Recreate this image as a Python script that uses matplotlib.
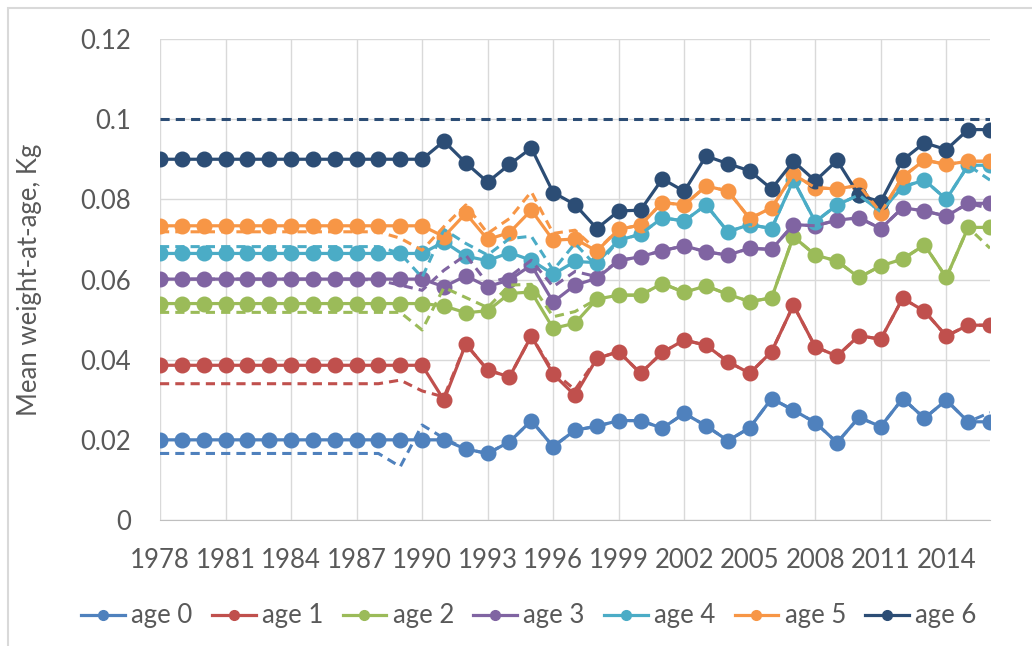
import matplotlib
matplotlib.use('Agg')
import matplotlib.pyplot as plt
from matplotlib.lines import Line2D
import numpy as np

# jahre 1978 - 2016
years = list(range(1978, 2017))

# durchgezogene linien (beobachtet)
age0 = [0.0200, 0.0200, 0.0200, 0.0200, 0.0200, 0.0200, 0.0200, 0.0200, 0.0200, 0.0200,
        0.0200, 0.0200, 0.0200, 0.0200, 0.0177, 0.0166, 0.0195, 0.0248, 0.0183, 0.0224,
        0.0234, 0.0248, 0.0248, 0.0229, 0.0266, 0.0235, 0.0198, 0.0230, 0.0303, 0.0274,
        0.0243, 0.0193, 0.0256, 0.0233, 0.0303, 0.0254, 0.0299, 0.0245, 0.0245]
age1 = [0.0386, 0.0386, 0.0386, 0.0386, 0.0386, 0.0386, 0.0386, 0.0386, 0.0386, 0.0386,
        0.0386, 0.0386, 0.0386, 0.0299, 0.0439, 0.0374, 0.0357, 0.0459, 0.0364, 0.0311,
        0.0403, 0.0420, 0.0366, 0.0418, 0.0449, 0.0436, 0.0395, 0.0366, 0.0420, 0.0536,
        0.0432, 0.0409, 0.0460, 0.0451, 0.0553, 0.0521, 0.0459, 0.0486, 0.0486]
age2 = [0.0540, 0.0540, 0.0540, 0.0540, 0.0540, 0.0540, 0.0540, 0.0540, 0.0540, 0.0540,
        0.0540, 0.0540, 0.0540, 0.0534, 0.0517, 0.0522, 0.0565, 0.0569, 0.0478, 0.0491,
        0.0551, 0.0561, 0.0561, 0.0590, 0.0568, 0.0584, 0.0563, 0.0545, 0.0554, 0.0707,
        0.0661, 0.0646, 0.0605, 0.0634, 0.0651, 0.0686, 0.0605, 0.0730, 0.0730]
age3 = [0.0601, 0.0601, 0.0601, 0.0601, 0.0601, 0.0601, 0.0601, 0.0601, 0.0601, 0.0601,
        0.0601, 0.0601, 0.0601, 0.0582, 0.0609, 0.0582, 0.0599, 0.0636, 0.0544, 0.0586,
        0.0603, 0.0647, 0.0657, 0.0672, 0.0684, 0.0669, 0.0661, 0.0678, 0.0675, 0.0737,
        0.0734, 0.0748, 0.0754, 0.0727, 0.0779, 0.0771, 0.0758, 0.0790, 0.0790]
age4 = [0.0665, 0.0665, 0.0665, 0.0665, 0.0665, 0.0665, 0.0665, 0.0665, 0.0665, 0.0665,
        0.0665, 0.0665, 0.0665, 0.0694, 0.0658, 0.0647, 0.0667, 0.0648, 0.0613, 0.0645,
        0.0642, 0.0698, 0.0713, 0.0754, 0.0746, 0.0786, 0.0719, 0.0737, 0.0727, 0.0848,
        0.0744, 0.0786, 0.0811, 0.0769, 0.0831, 0.0848, 0.0800, 0.0885, 0.0885]
age5 = [0.0734, 0.0734, 0.0734, 0.0734, 0.0734, 0.0734, 0.0734, 0.0734, 0.0734, 0.0734,
        0.0734, 0.0734, 0.0734, 0.0707, 0.0765, 0.0700, 0.0717, 0.0773, 0.0698, 0.0701,
        0.0671, 0.0725, 0.0736, 0.0792, 0.0786, 0.0833, 0.0821, 0.0752, 0.0779, 0.0862,
        0.0829, 0.0826, 0.0835, 0.0767, 0.0856, 0.0898, 0.0887, 0.0895, 0.0895]
age6 = [0.0900, 0.0900, 0.0900, 0.0900, 0.0900, 0.0900, 0.0900, 0.0900, 0.0900, 0.0900,
        0.0900, 0.0900, 0.0900, 0.0945, 0.0891, 0.0843, 0.0887, 0.0928, 0.0817, 0.0787,
        0.0727, 0.0771, 0.0773, 0.0851, 0.0820, 0.0908, 0.0889, 0.0871, 0.0826, 0.0895,
        0.0846, 0.0897, 0.0810, 0.0794, 0.0898, 0.0941, 0.0924, 0.0974, 0.0974]

# gestrichelte linien (modell)
age0_fit = [0.0166, 0.0166, 0.0166, 0.0166, 0.0166, 0.0166, 0.0166, 0.0166, 0.0166, 0.0166,
            0.0166, 0.0133, 0.0237, 0.0204, 0.0177, 0.0166, 0.0195, 0.0248, 0.0183, 0.0224,
            0.0234, 0.0248, 0.0248, 0.0229, 0.0266, 0.0235, 0.0198, 0.0230, 0.0303, 0.0274,
            0.0243, 0.0193, 0.0256, 0.0233, 0.0303, 0.0254, 0.0299, 0.0245, 0.0268]
age1_fit = [0.0340, 0.0340, 0.0340, 0.0340, 0.0340, 0.0340, 0.0340, 0.0340, 0.0340, 0.0340,
            0.0340, 0.0349, 0.0322, 0.0307, 0.0439, 0.0374, 0.0357, 0.0459, 0.0370, 0.0325,
            0.0403, 0.0420, 0.0366, 0.0418, 0.0449, 0.0436, 0.0395, 0.0366, 0.0420, 0.0536,
            0.0432, 0.0409, 0.0460, 0.0451, 0.0553, 0.0521, 0.0459, 0.0486, 0.0486]
age2_fit = [0.0518, 0.0518, 0.0518, 0.0518, 0.0518, 0.0518, 0.0518, 0.0518, 0.0518, 0.0518,
            0.0518, 0.0518, 0.0474, 0.0580, 0.0555, 0.0530, 0.0586, 0.0588, 0.0507, 0.0520,
            0.0551, 0.0561, 0.0561, 0.0590, 0.0568, 0.0584, 0.0563, 0.0545, 0.0554, 0.0707,
            0.0661, 0.0646, 0.0605, 0.0634, 0.0651, 0.0686, 0.0605, 0.0730, 0.0678]
age3_fit = [0.0601, 0.0601, 0.0601, 0.0601, 0.0601, 0.0601, 0.0601, 0.0601, 0.0601, 0.0601,
            0.0598, 0.0586, 0.0573, 0.0623, 0.0661, 0.0590, 0.0607, 0.0648, 0.0582, 0.0620,
            0.0607, 0.0647, 0.0657, 0.0672, 0.0684, 0.0669, 0.0661, 0.0678, 0.0675, 0.0737,
            0.0734, 0.0748, 0.0754, 0.0727, 0.0779, 0.0771, 0.0758, 0.0790, 0.0777]
age4_fit = [0.0682, 0.0682, 0.0682, 0.0682, 0.0682, 0.0682, 0.0682, 0.0682, 0.0682, 0.0682,
            0.0682, 0.0665, 0.0605, 0.0725, 0.0690, 0.0661, 0.0702, 0.0708, 0.0623, 0.0690,
            0.0632, 0.0698, 0.0713, 0.0754, 0.0746, 0.0786, 0.0719, 0.0737, 0.0727, 0.0848,
            0.0744, 0.0786, 0.0811, 0.0769, 0.0831, 0.0848, 0.0800, 0.0885, 0.0848]
age5_fit = [0.0719, 0.0719, 0.0719, 0.0719, 0.0719, 0.0719, 0.0719, 0.0719, 0.0719, 0.0719,
            0.0719, 0.0703, 0.0673, 0.0732, 0.0786, 0.0715, 0.0752, 0.0819, 0.0715, 0.0723,
            0.0673, 0.0725, 0.0736, 0.0792, 0.0786, 0.0833, 0.0821, 0.0752, 0.0779, 0.0862,
            0.0829, 0.0826, 0.0835, 0.0767, 0.0856, 0.0898, 0.0887, 0.0895, 0.0895]
age6_fit = [0.1] * 39

labels = ['age 0', 'age 1', 'age 2', 'age 3', 'age 4', 'age 5', 'age 6']
colors = ['#4F81BD', '#C0504D', '#9BBB59', '#8064A2', '#4BACC6', '#F79646', '#2C4D75']
observed = [age0, age1, age2, age3, age4, age5, age6]
fitted = [age0_fit, age1_fit, age2_fit, age3_fit, age4_fit, age5_fit, age6_fit]

plt.rcParams['font.family'] = ['Lato', 'DejaVu Sans']
textcol = '#595959'
fs = 18.5

fig = plt.figure(figsize=(10.32, 6.46), dpi=100)
ax = fig.add_axes([160 / 1032, 1 - 520 / 646, 830 / 1032, 481 / 646])

for obs, col in zip(observed, colors):
    ax.plot(years, obs, color=col, lw=2.3, marker='o', ms=10.5, zorder=3)
for fit, col in zip(fitted, colors):
    ax.plot(years, fit, color=col, lw=2.2, ls=(0, (3.0, 2.0)), zorder=4)

ax.set_xlim(1978, 2016)
ax.set_ylim(0, 0.12)
ax.set_xticks(list(range(1978, 2015, 3)))
ax.set_yticks([0, 0.02, 0.04, 0.06, 0.08, 0.1, 0.12])
ax.set_yticklabels(['0', '0.02', '0.04', '0.06', '0.08', '0.1', '0.12'])
ax.grid(True, color='#D9D9D9', lw=1.0, zorder=0)
ax.set_axisbelow(True)
for s in ['top', 'right', 'left']:
    ax.spines[s].set_visible(False)
ax.spines['bottom'].set_color('#BFBFBF')
ax.tick_params(axis='both', length=0, labelsize=fs, labelcolor=textcol)
ax.tick_params(axis='y', pad=21)
ax.tick_params(axis='x', pad=20)

fig.text(30 / 1032, 1 - 280 / 646, 'Mean weight-at-age, Kg', rotation=90,
         ha='center', va='center', fontsize=fs, color=textcol)

handles = [Line2D([0], [0], color=c, lw=2.3, marker='o', ms=7) for c in colors]
fig.legend(handles, labels, loc='center', bbox_to_anchor=(529 / 1032, 1 - 616 / 646),
           ncol=7, frameon=False, fontsize=fs, handlelength=1.7, handletextpad=0.25,
           columnspacing=0.75, labelcolor=textcol)

# rahmen vom excel diagramm
fig.add_artist(plt.Rectangle((8 / 1032, -0.1), 1.2, 1 - 8 / 646 + 0.1,
                             transform=fig.transFigure, fill=False,
                             edgecolor='#D9D9D9', lw=1.5))

fig.savefig('out.png', dpi=100)
